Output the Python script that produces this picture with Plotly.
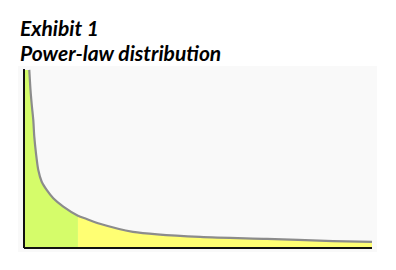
import plotly.graph_objects as go

# Values (x: 0-100 along the axis, y: 0-100 of the height)
curve_x = [1.52, 1.87, 2.24, 2.67, 2.96, 3.45, 4.11, 5.09, 6.52, 8.42, 11.29, 15.5, 18.0, 21.8,
           31.3, 50.6, 69.8, 88.8, 100.0]
curve_y = [100.0, 88.8, 80.3, 71.9, 62.5, 53.2, 43.8, 37.2, 32.6, 27.9, 23.2, 18.1, 16.3, 13.6,
           9.1, 6.2, 5.1, 3.9, 3.4]
head_cutoff = 15.5
title_line1 = "Exhibit 1"
title_line2 = "Power-law distribution"

head_x = [0.0] + [x for x in curve_x if x <= head_cutoff]
head_y = [curve_y[0]] + [y for x, y in zip(curve_x, curve_y) if x <= head_cutoff]
tail_x = [x for x in curve_x if x >= head_cutoff]
tail_y = [y for x, y in zip(curve_x, curve_y) if x >= head_cutoff]

fig = go.Figure()
fig.add_trace(go.Scatter(x=tail_x, y=tail_y, fill="tozeroy", mode="lines",
                         line=dict(width=0, shape="spline", smoothing=0.8),
                         fillcolor="#ffff73", hoverinfo="skip"))
fig.add_trace(go.Scatter(x=head_x, y=head_y, fill="tozeroy", mode="lines",
                         line=dict(width=0, shape="linear"),
                         fillcolor="#d5fc6a", hoverinfo="skip"))
fig.add_trace(go.Scatter(x=curve_x, y=curve_y, mode="lines",
                         line=dict(color="#8c8c8c", width=2.2, shape="spline", smoothing=0.8),
                         hoverinfo="skip"))

fig.add_shape(type="line", x0=0, x1=0, y0=0, y1=100.5, line=dict(color="#111111", width=2))
fig.add_shape(type="line", x0=0, x1=100, y0=0, y1=0, line=dict(color="#111111", width=2))

title_font = dict(family="Lato", size=21, color="#000000")
fig.add_annotation(text="<b><i>" + title_line1 + "</i></b>", xref="paper", yref="paper",
                   x=0, y=1, xanchor="left", yanchor="bottom", xshift=0, yshift=24,
                   showarrow=False, font=title_font)
fig.add_annotation(text="<b><i>" + title_line2 + "</i></b>", xref="paper", yref="paper",
                   x=0, y=1, xanchor="left", yanchor="bottom", xshift=0, yshift=-1,
                   showarrow=False, font=title_font)

fig.update_layout(
    width=396, height=270,
    margin=dict(l=18, r=19, t=66, b=18),
    paper_bgcolor="white", plot_bgcolor="#f9f9f9",
    showlegend=False,
    xaxis=dict(range=[-1.72, 101.44], visible=False, fixedrange=True),
    yaxis=dict(range=[-2.25, 102.2], visible=False, fixedrange=True),
)
fig.write_html("out.html")
